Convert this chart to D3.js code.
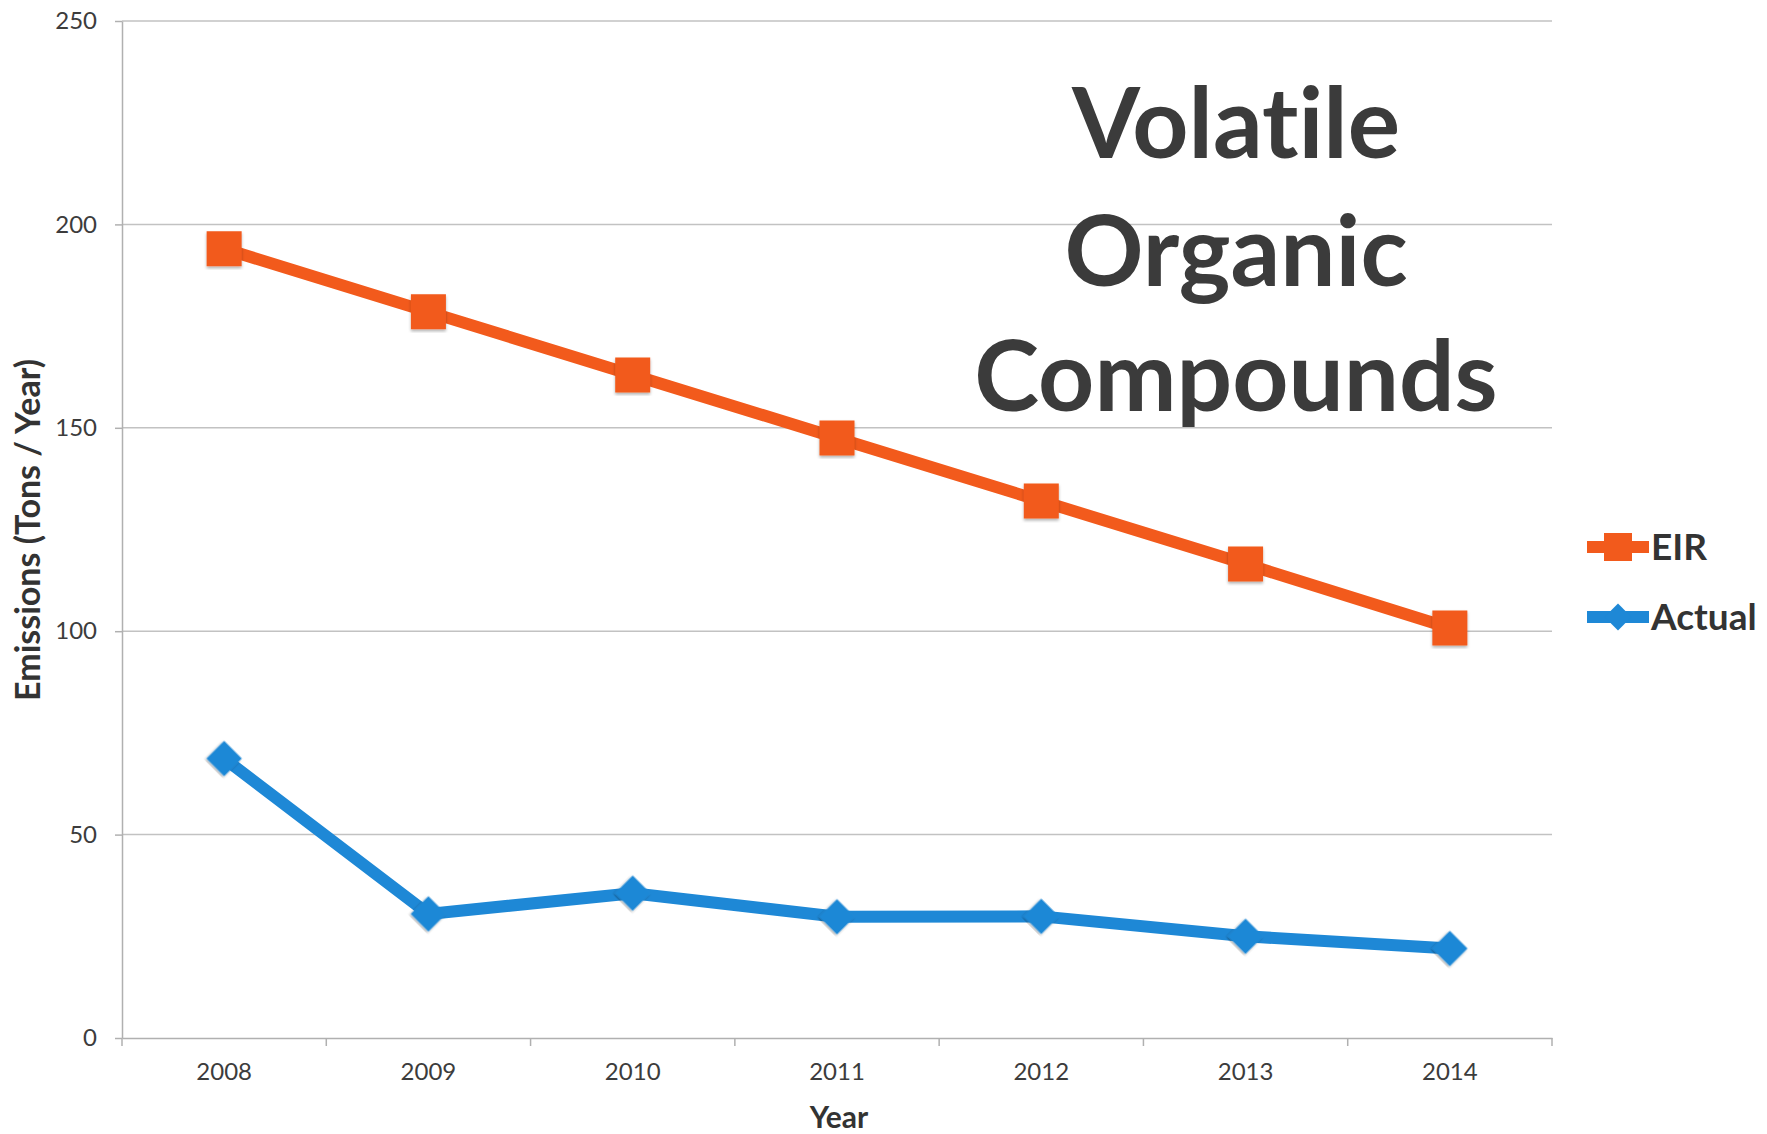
<!DOCTYPE html>
<html>
<head>
<meta charset="utf-8">
<script src="https://cdn.jsdelivr.net/npm/d3@7"></script>
<style>
  body { margin: 0; background: #fff; }
  text { font-family: Lato, "Open Sans", sans-serif; font-variant-ligatures: none; }
</style>
</head>
<body>
<svg width="1767" height="1134"></svg>
<script>
const years = ["2008", "2009", "2010", "2011", "2012", "2013", "2014"];
const eirValues = [194, 178.5, 163, 147.5, 132, 116.5, 100.8];
const actualValues = [68.7, 30.5, 35.6, 29.8, 29.9, 25, 22];
const yTicks = [0, 50, 100, 150, 200, 250];
const titleLines = ["Volatile", "Organic", "Compounds"];
const seriesNames = ["EIR", "Actual"];

var svg = d3.select("svg");

var x = d3.scaleBand().domain(years).range([122, 1552]);
var y = d3.scaleLinear().domain([0, 250]).range([1038, 21]);
var cx = d => x(d) + x.bandwidth() / 2;

var series = [
  { name: seriesNames[0], values: eirValues, color: "#f25a1c", shape: "square" },
  { name: seriesNames[1], values: actualValues, color: "#1e88d6", shape: "diamond" }
];

// soft shadow under the markers
svg.append("defs")
  .append("filter")
  .attr("id", "shadow")
  .append("feDropShadow")
  .attr("dx", 0)
  .attr("dy", 2)
  .attr("stdDeviation", 1.5)
  .attr("flood-color", "#000")
  .attr("flood-opacity", 0.3);

// horizontal gridlines
svg.append("g")
  .selectAll("line")
  .data(yTicks.filter(d => d > 0))
  .enter()
  .append("line")
  .attr("x1", x.range()[0])
  .attr("x2", x.range()[1])
  .attr("y1", d => y(d))
  .attr("y2", d => y(d))
  .attr("stroke", "#c2c2c2")
  .attr("stroke-width", 1.5);

// y axis
var yAxis = svg.append("g")
  .attr("transform", `translate(${x.range()[0]},0)`)
  .call(d3.axisLeft(y).tickValues(yTicks).tickSize(7).tickSizeOuter(0).tickPadding(18));
yAxis.select(".domain").attr("stroke", "#b0b0b0").attr("stroke-width", 1.5);
yAxis.selectAll(".tick line").attr("stroke", "#b0b0b0").attr("stroke-width", 1.5);
yAxis.selectAll("text").attr("font-size", 24).attr("fill", "#3c3c3c").attr("font-family", "Lato");

// x axis, labels centred in each category
var xAxis = svg.append("g")
  .attr("transform", `translate(0,${y(0)})`)
  .call(d3.axisBottom(x).tickSize(0).tickSizeOuter(0).tickPadding(25));
xAxis.select(".domain").attr("stroke", "#b0b0b0").attr("stroke-width", 1.5);
xAxis.selectAll("text").attr("font-size", 24).attr("fill", "#3c3c3c").attr("font-family", "Lato");

// tick marks between categories
xAxis.selectAll(".sep")
  .data(years.map(d => x(d)).concat([x.range()[1]]))
  .enter()
  .append("line")
  .attr("class", "sep")
  .attr("x1", d => d)
  .attr("x2", d => d)
  .attr("y1", 0)
  .attr("y2", 8)
  .attr("stroke", "#b0b0b0")
  .attr("stroke-width", 1.5);

var line = d3.line()
  .x((d, i) => cx(years[i]))
  .y(d => y(d));

var squareSym = d3.symbol().type(d3.symbolSquare).size(35 * 35);
var diamondSym = d3.symbol().type(d3.symbolSquare).size(25 * 25);

series.forEach(function(s) {
  svg.append("path")
    .datum(s.values)
    .attr("d", line)
    .attr("fill", "none")
    .attr("stroke", s.color)
    .attr("stroke-width", 12)
    .attr("stroke-linejoin", "round");

  svg.append("g")
    .selectAll("path")
    .data(s.values)
    .enter()
    .append("path")
    .attr("d", s.shape === "square" ? squareSym() : diamondSym())
    .attr("transform", (d, i) =>
      `translate(${cx(years[i])},${y(d)})` + (s.shape === "diamond" ? " rotate(45)" : "")
    )
    .attr("fill", s.color)
    .attr("filter", "url(#shadow)");
});

// legend
var legend = svg.append("g")
  .selectAll("g")
  .data(series)
  .enter()
  .append("g")
  .attr("transform", (d, i) => `translate(1587,${547 + i * 70})`);

legend.append("line")
  .attr("x1", 0)
  .attr("x2", 62)
  .attr("stroke", d => d.color)
  .attr("stroke-width", 12);

legend.append("path")
  .attr("d", d => d.shape === "square"
    ? d3.symbol().type(d3.symbolSquare).size(28 * 28)()
    : d3.symbol().type(d3.symbolSquare).size(19 * 19)())
  .attr("transform", d => "translate(31,0)" + (d.shape === "diamond" ? " rotate(45)" : ""))
  .attr("fill", d => d.color);

legend.append("text")
  .attr("x", 64)
  .attr("y", 13)
  .attr("font-size", 37)
  .attr("font-weight", "bold")
  .attr("fill", "#333")
  .text(d => d.name);

// big title inside the plot
svg.append("g")
  .selectAll("text")
  .data(titleLines)
  .enter()
  .append("text")
  .attr("x", 1236)
  .attr("y", (d, i) => [158, 286, 411][i])
  .attr("text-anchor", "middle")
  .attr("font-size", 98)
  .attr("font-weight", "bold")
  .attr("fill", "#3b3b3b")
  .text(d => d);

// axis titles
svg.append("text")
  .attr("transform", "translate(40,530) rotate(-90)")
  .attr("text-anchor", "middle")
  .attr("font-size", 34)
  .attr("font-weight", "bold")
  .attr("fill", "#333")
  .text("Emissions (Tons / Year)");

svg.append("text")
  .attr("x", 839)
  .attr("y", 1128)
  .attr("text-anchor", "middle")
  .attr("font-size", 30)
  .attr("font-weight", "bold")
  .attr("fill", "#333")
  .text("Year");
</script>
</body>
</html>
